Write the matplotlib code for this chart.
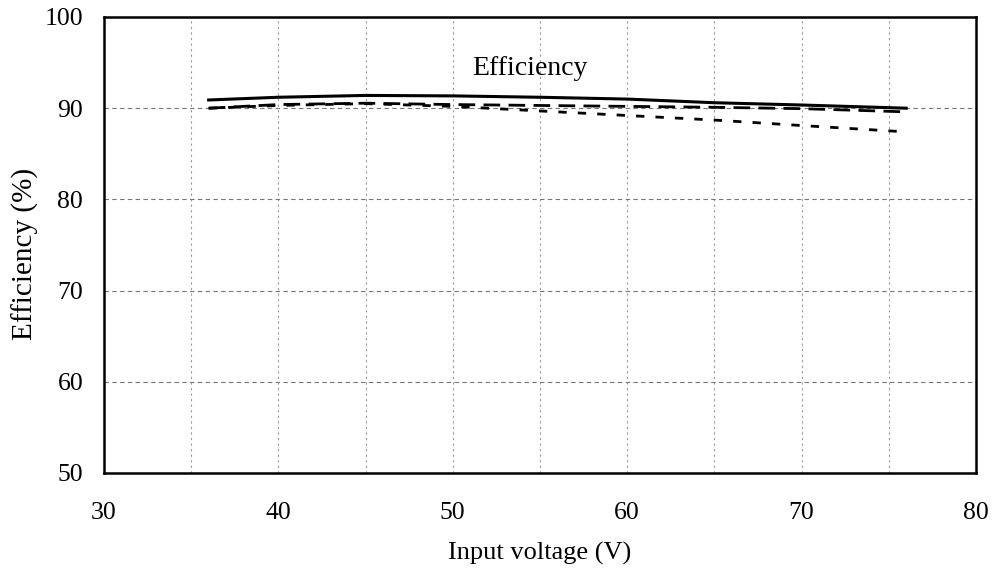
import matplotlib.pyplot as plt
import numpy as np

# input voltage points (V)
voltage = [36, 40, 45, 50, 55, 60, 65, 70, 76]
# efficiency curves (%)
eff_solid = [90.9, 91.2, 91.4, 91.35, 91.2, 91.0, 90.6, 90.35, 90.0]
eff_dash = [90.0, 90.4, 90.55, 90.4, 90.3, 90.2, 90.1, 89.95, 89.6]
eff_dot = [90.0, 90.3, 90.5, 90.2, 89.7, 89.2, 88.7, 88.1, 87.4]

x_ticks = [30, 40, 50, 60, 70, 80]
y_ticks = [50, 60, 70, 80, 90, 100]

plt.rcParams['font.family'] = ['Liberation Serif', 'DejaVu Serif']

fig = plt.figure(figsize=(9.95, 5.71), dpi=100)
ax = fig.add_axes([104 / 995, 1 - 473 / 571, 872 / 995, 456 / 571])

# grid
for v in range(35, 80, 5):
    ax.axvline(v, color='#999999', lw=0.8, ls=(0, (2, 3)), zorder=0)
for v in [60, 70, 80, 90]:
    ax.axhline(v, color='#777777', lw=0.8, ls=(0, (4, 3)), zorder=0)

ax.plot(voltage, eff_solid, color='black', lw=2.2, ls='-')
ax.plot(voltage, eff_dash, color='black', lw=2.0, ls=(0, (6, 3)))
ax.plot(voltage, eff_dot, color='black', lw=2.0, ls=(0, (3, 4)))

ax.text(54.4, 94.3, 'Efficiency', ha='center', va='center', fontsize=20)

ax.set_xlim(30, 80)
ax.set_ylim(50, 100)
ax.set_xticks(x_ticks)
ax.set_yticks(y_ticks)
ax.tick_params(length=0, labelsize=18.5)
ax.tick_params(axis='x', pad=21)
ax.tick_params(axis='y', pad=15)
for s in ax.spines.values():
    s.set_linewidth(1.8)

ax.set_xlabel('Input voltage (V)', fontsize=19, labelpad=13)
ax.set_ylabel('Efficiency (%)', fontsize=21, labelpad=3)
ax.yaxis.set_label_coords(-0.075, 0.48)

fig.savefig('out.png', dpi=100)
